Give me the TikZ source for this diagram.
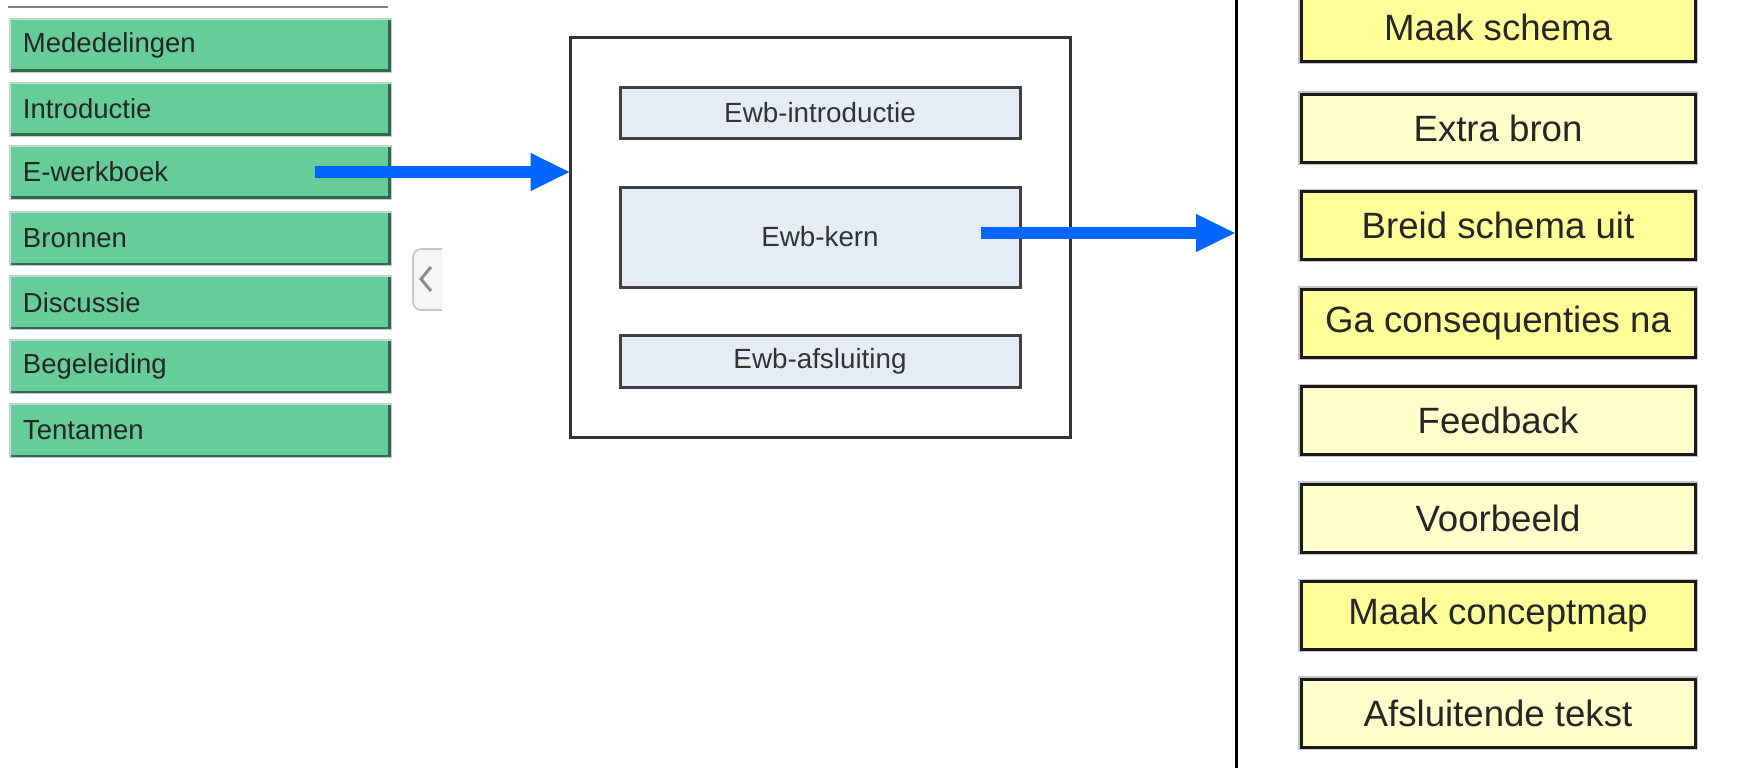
\documentclass[tikz,border=0pt]{standalone}
\usepackage{fontspec}
\setmainfont{Liberation Sans}
\usepackage{tikz}
\usetikzlibrary{arrows.meta, positioning}
\tikzset{>=stealth}
\definecolor{btngreen}{HTML}{66CC99}
\definecolor{btndark}{HTML}{2F6A4E}
\definecolor{btnlight}{HTML}{B4E8CE}
\definecolor{ewbfill}{HTML}{E6ECF6}
\definecolor{geel}{HTML}{FFFF99}
\definecolor{lichtgeel}{HTML}{FFFFCC}
\definecolor{pijlblauw}{HTML}{0066FF}

\begin{document}
\begin{tikzpicture}[x=0.5pt, y=-0.5pt,
	menu/.style={fill=btngreen, draw=gray!40, line width=0.5pt, minimum width=191pt, minimum height=27pt,
		text width=177pt, align=left, inner xsep=7pt, text=black!85, font=\fontsize{13.75}{15}\selectfont,
		path picture={
			\draw[line width=3pt, btndark] (path picture bounding box.south west) -- (path picture bounding box.south east) -- (path picture bounding box.north east);
			\draw[line width=1.5pt, btnlight] (path picture bounding box.south west) -- (path picture bounding box.north west) -- (path picture bounding box.north east);}},
	ewb/.style={fill=ewbfill, draw=black!75, line width=1.5pt, minimum width=200pt, text=black!80, font=\fontsize{13.9}{15}\selectfont},
	stap/.style={draw=black!90, line width=1.5pt, preaction={draw=gray!45, line width=2.6pt}, minimum width=197pt, minimum height=34pt,
		text=black!85, font=\fontsize{18.3}{20}\selectfont},
	pijl/.style={-{Triangle[length=20pt, width=17.5pt]}, line width=6pt, pijlblauw}]

		\useasboundingbox (0,0) rectangle (1760,768);

		% menu links
		\draw [gray, line width=1pt] (8,7) -- (388,7);
		\node [menu] (L1) at (200,45) {Mededelingen};
		\node [menu] (L2) at (200,109) {Introductie};
		\node [menu] (L3) at (200,172) {E-werkboek};
		\node [menu] (L4) at (200,238.5) {Bronnen};
		\node [menu] (L5) at (200,302.5) {Discussie};
		\node [menu] (L6) at (200,366.5) {Begeleiding};
		\node [menu] (L7) at (200,430.5) {Tentamen};

		% inklap-tab
		\draw [fill=gray!8, draw=gray!45, line width=0.8pt, rounded corners=4pt] (442,249) -- (413,249) -- (413,310) -- (442,310);
		\draw [gray!90, line width=1.5pt] (431,267) -- (421,279) -- (431,291);

		% e-werkboek
		\node [draw=black!80, line width=1.5pt, minimum width=250pt, minimum height=200pt] (F) at (820,237) {};
		\node [ewb, minimum height=25.5pt] (B1) at (820,112.5) {Ewb-introductie};
		\node [ewb, minimum height=50pt] (B2) at (820,237) {Ewb-kern};
		\node [ewb, minimum height=26pt] (B3) at (820,361) {Ewb-afsluiting};

		% stappen van de kern
		\coordinate (P1) at (1236,0);
		\coordinate (P2) at (1236,768);
		\draw [line width=1.5pt] (P1) -- (P2);
		\node [stap, fill=geel] (R1) at (1498,27) {Maak schema};
		\node [stap, fill=lichtgeel] (R2) at (1498,128) {Extra bron};
		\node [stap, fill=geel] (R3) at (1498,225.5) {Breid schema uit};
		\node [stap, fill=geel] (R4) at (1498,323) {Ga consequenties na};
		\node [stap, fill=lichtgeel] (R5) at (1498,420.5) {Feedback};
		\node [stap, fill=lichtgeel] (R6) at (1498,518) {Voorbeeld};
		\node [stap, fill=geel] (R7) at (1498,615.5) {Maak conceptmap};
		\node [stap, fill=lichtgeel] (R8) at (1498,713) {Afsluitende tekst};

		\draw [pijl] ([xshift=-38.5pt]L3.east) -- ([xshift=1pt]L3.east -| F.west);
		\draw [pijl] ([shift={(-41,-4)}]B2.east) -- ([yshift=2pt]B2.east -| P1);

\end{tikzpicture}
\end{document}
